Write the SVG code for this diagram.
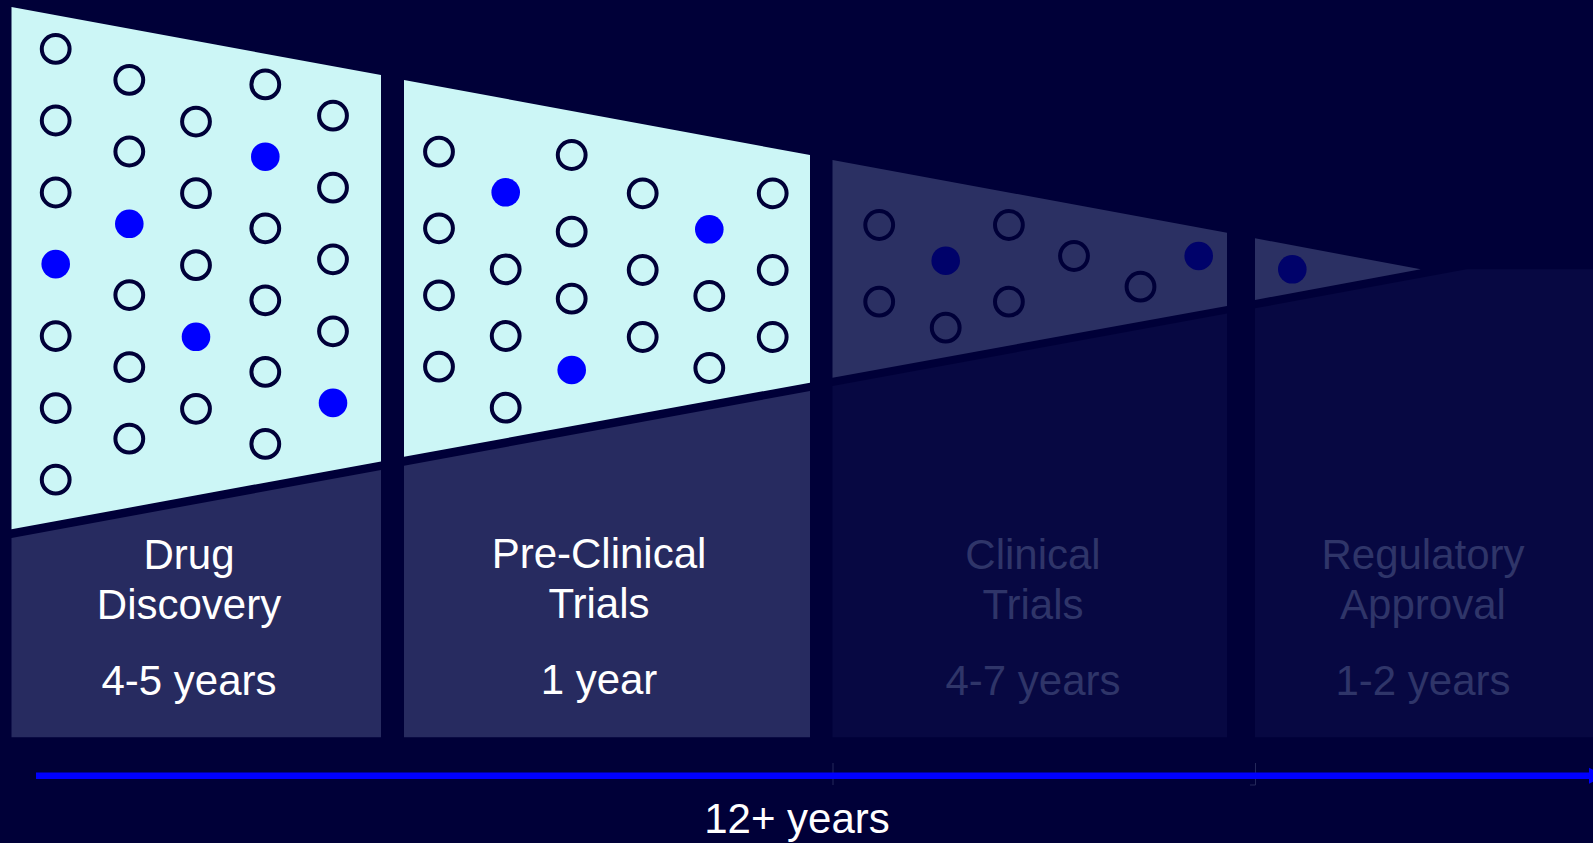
<svg xmlns="http://www.w3.org/2000/svg" width="1593" height="843" viewBox="0 0 1593 843">
  <style>
    .light { fill: #CCF6F6; }
    .lowA { fill: #272B60; }
    .upB { fill: #2B3063; }
    .lowB { fill: #070842; }
    .o { fill: none; stroke: #000038; stroke-width: 4; }
    .f { fill: #0000FF; }
    .fd { fill: #00026A; }
    .oc { fill: none; stroke: #000038; stroke-width: 4; }
    text { font-family: "Liberation Sans", Arial, sans-serif; font-size: 42px; text-anchor: middle; }
    .tw { fill: #FFFFFF; }
    .td { fill: #2F3569; }
    .faint { stroke: #24285A; stroke-width: 1; fill: none; }
  </style>
  <defs>
    <marker id="arrowhead" markerUnits="userSpaceOnUse" markerWidth="18" markerHeight="18" refX="0" refY="8" orient="auto" overflow="visible">
      <path d="M0,0 L16,8 L0,16 Z" fill="#0000FF"/>
    </marker>
  </defs>
  <rect x="0" y="0" width="1593" height="843" fill="#000038"/>

  <g id="phase-drug-discovery">
    <polygon class="light" points="11.5,6.9 381,75.1 381,461.4 11.5,529.3"/>
    <polygon class="lowA" points="11.5,537.9 381,470 381,737.3 11.5,737.3"/>
    <circle class="o" cx="55.7" cy="48.9" r="13.9"/>
    <circle class="o" cx="55.7" cy="120.5" r="13.9"/>
    <circle class="o" cx="55.7" cy="192.5" r="13.9"/>
    <circle class="f" cx="55.7" cy="264.1" r="14.3"/>
    <circle class="o" cx="55.7" cy="336.1" r="13.9"/>
    <circle class="o" cx="55.7" cy="408.1" r="13.9"/>
    <circle class="o" cx="55.7" cy="479.7" r="13.9"/>
    <circle class="o" cx="129.3" cy="79.9" r="13.9"/>
    <circle class="o" cx="129.3" cy="151.5" r="13.9"/>
    <circle class="f" cx="129.3" cy="223.8" r="14.3"/>
    <circle class="o" cx="129.3" cy="295.1" r="13.9"/>
    <circle class="o" cx="129.3" cy="367.1" r="13.9"/>
    <circle class="o" cx="129.3" cy="438.7" r="13.9"/>
    <circle class="o" cx="196" cy="121.6" r="13.9"/>
    <circle class="o" cx="196" cy="193.2" r="13.9"/>
    <circle class="o" cx="196" cy="265.2" r="13.9"/>
    <circle class="f" cx="196" cy="336.8" r="14.3"/>
    <circle class="o" cx="196" cy="408.8" r="13.9"/>
    <circle class="o" cx="265.3" cy="84.4" r="13.9"/>
    <circle class="f" cx="265.3" cy="156.7" r="14.3"/>
    <circle class="o" cx="265.3" cy="228.3" r="13.9"/>
    <circle class="o" cx="265.3" cy="300.3" r="13.9"/>
    <circle class="o" cx="265.3" cy="371.9" r="13.9"/>
    <circle class="o" cx="265.3" cy="443.9" r="13.9"/>
    <circle class="o" cx="333" cy="115.7" r="13.9"/>
    <circle class="o" cx="333" cy="187.7" r="13.9"/>
    <circle class="o" cx="333" cy="259.3" r="13.9"/>
    <circle class="o" cx="333" cy="331.3" r="13.9"/>
    <circle class="f" cx="333" cy="402.9" r="14.3"/>
    <text class="tw" x="189" y="569">Drug</text>
    <text class="tw" x="189" y="619">Discovery</text>
    <text class="tw" x="189" y="695">4-5 years</text>
  </g>

  <g id="phase-pre-clinical">
    <polygon class="light" points="404,80 810,155 810,382.7 404,456.7"/>
    <polygon class="lowA" points="404,465.7 810,391 810,737.3 404,737.3"/>
    <circle class="o" cx="439" cy="151.7" r="13.9"/>
    <circle class="o" cx="439" cy="228.3" r="13.9"/>
    <circle class="o" cx="439" cy="295.3" r="13.9"/>
    <circle class="o" cx="439" cy="366.7" r="13.9"/>
    <circle class="f" cx="505.7" cy="192.3" r="14.3"/>
    <circle class="o" cx="505.7" cy="269.3" r="13.9"/>
    <circle class="o" cx="505.7" cy="336" r="13.9"/>
    <circle class="o" cx="505.7" cy="407.7" r="13.9"/>
    <circle class="o" cx="571.7" cy="155" r="13.9"/>
    <circle class="o" cx="571.7" cy="231.7" r="13.9"/>
    <circle class="o" cx="571.7" cy="298.7" r="13.9"/>
    <circle class="f" cx="571.7" cy="370" r="14.3"/>
    <circle class="o" cx="642.7" cy="193.3" r="13.9"/>
    <circle class="o" cx="642.7" cy="270" r="13.9"/>
    <circle class="o" cx="642.7" cy="337" r="13.9"/>
    <circle class="f" cx="709.3" cy="229.3" r="14.3"/>
    <circle class="o" cx="709.3" cy="296" r="13.9"/>
    <circle class="o" cx="709.3" cy="368" r="13.9"/>
    <circle class="o" cx="772.7" cy="193.3" r="13.9"/>
    <circle class="o" cx="772.7" cy="270" r="13.9"/>
    <circle class="o" cx="772.7" cy="337" r="13.9"/>
    <text class="tw" x="599" y="568">Pre-Clinical</text>
    <text class="tw" x="599" y="618">Trials</text>
    <text class="tw" x="599" y="694">1 year</text>
  </g>

  <g id="phase-clinical">
    <polygon class="upB" points="832.5,160 1227,232.7 1227,306 832.5,377.7"/>
    <polygon class="lowB" points="832.5,386 1227,313.5 1227,737.3 832.5,737.3"/>
    <circle class="oc" cx="879.2" cy="225" r="13.9"/>
    <circle class="oc" cx="879.2" cy="301.7" r="13.9"/>
    <circle class="fd" cx="945.7" cy="260.7" r="14.3"/>
    <circle class="oc" cx="945.7" cy="327.7" r="13.9"/>
    <circle class="oc" cx="1008.9" cy="225" r="13.9"/>
    <circle class="oc" cx="1008.9" cy="301.7" r="13.9"/>
    <circle class="oc" cx="1074" cy="256" r="13.9"/>
    <circle class="oc" cx="1140.5" cy="286.7" r="13.9"/>
    <circle class="fd" cx="1198.7" cy="256" r="14.3"/>
    <text class="td" x="1033" y="569">Clinical</text>
    <text class="td" x="1033" y="619">Trials</text>
    <text class="td" x="1033" y="695">4-7 years</text>
  </g>

  <g id="phase-regulatory-approval">
    <polygon class="upB" points="1255,238.3 1420.7,269.3 1255,300"/>
    <polygon class="lowB" points="1255,308.3 1466.7,269.3 1593,269.3 1593,737.3 1255,737.3"/>
    <circle class="fd" cx="1292.3" cy="269.3" r="14.3"/>
    <text class="td" x="1423" y="569">Regulatory</text>
    <text class="td" x="1423" y="619">Approval</text>
    <text class="td" x="1423" y="695">1-2 years</text>
  </g>

  <g id="connectors">
    <path class="faint" d="M833,763 V785"/>
    <path class="faint" d="M1255.5,763 V785 H1250"/>
    <line x1="36" y1="775.7" x2="1589" y2="775.7" stroke="#0000FF" stroke-width="6.5" marker-end="url(#arrowhead)"/>
    <text class="tw" x="797" y="833">12+ years</text>
  </g>
</svg>
